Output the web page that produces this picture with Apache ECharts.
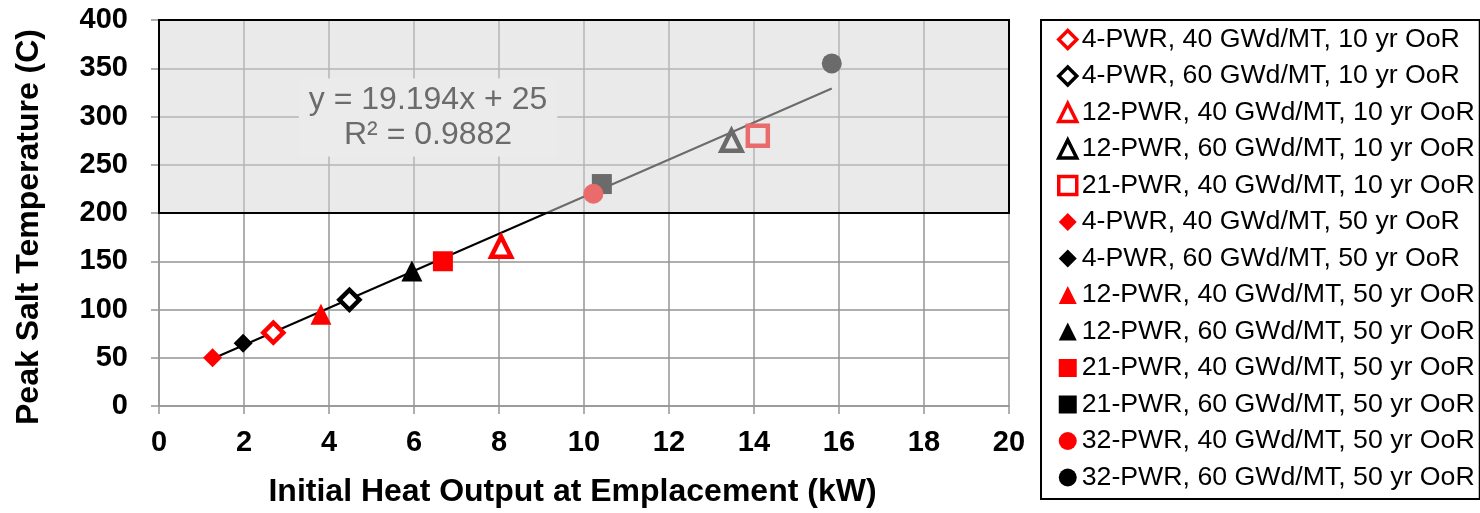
<!DOCTYPE html>
<html>
<head>
<meta charset="utf-8">
<script src="https://cdn.jsdelivr.net/npm/echarts@6/dist/echarts.min.js"></script>
<style>
html,body{margin:0;padding:0;background:#fff;}
#chart{width:1480px;height:513px;}
</style>
</head>
<body>
<div id="chart"></div>
<script>
// ---- data ----
const seriesNames = [
  '4-PWR, 40 GWd/MT, 10 yr OoR',
  '4-PWR, 60 GWd/MT, 10 yr OoR',
  '12-PWR, 40 GWd/MT, 10 yr OoR',
  '12-PWR, 60 GWd/MT, 10 yr OoR',
  '21-PWR, 40 GWd/MT, 10 yr OoR',
  '4-PWR, 40 GWd/MT, 50 yr OoR',
  '4-PWR, 60 GWd/MT, 50 yr OoR',
  '12-PWR, 40 GWd/MT, 50 yr OoR',
  '12-PWR, 60 GWd/MT, 50 yr OoR',
  '21-PWR, 40 GWd/MT, 50 yr OoR',
  '21-PWR, 60 GWd/MT, 50 yr OoR',
  '32-PWR, 40 GWd/MT, 50 yr OoR',
  '32-PWR, 60 GWd/MT, 50 yr OoR'
];
const heatOutput = [2.69, 4.48, 8.05, 13.47, 14.09, 1.26, 1.98, 3.81, 5.95, 6.68, 10.42, 10.22, 15.83];
const peakTemp   = [76, 110, 165, 275, 280, 50, 65, 95, 140, 150, 230, 220, 355];
const symbols    = ['diamond','diamond','triangle','triangle','rect','diamond','diamond','triangle','triangle','rect','rect','circle','circle'];
const colors     = ['#ff0000','#000000','#ff0000','#000000','#ff0000','#ff0000','#000000','#ff0000','#000000','#ff0000','#000000','#ff0000','#000000'];
const hollow     = [true, true, true, true, true, false, false, false, false, false, false, false, false];
const trendPoints = [[1.26, 49], [15.83, 329]];
const shadeBox = [0, 200, 20, 400];          // xMin, yMin, xMax, yMax
const equationText = ['y = 19.194x + 25', 'R\u00b2 = 0.9882'];
const equationAt = [6.33, 299];
const xTicks = {min: 0, max: 20, interval: 2};
const yTicks = {min: 0, max: 400, interval: 50};

const FONT = '"Liberation Sans", Arial, sans-serif';
const filledSize = {diamond: 19, triangle: 21, rect: 20, circle: 20};

const scatterSeries = seriesNames.map((name, i) => ({
  name: name,
  type: 'scatter',
  z: 3,
  symbol: symbols[i],
  symbolSize: hollow[i] ? 20 : filledSize[symbols[i]],
  itemStyle: hollow[i]
    ? {color: '#ffffff', borderColor: colors[i], borderWidth: 4.5, opacity: 1}
    : {color: colors[i], borderWidth: 0, opacity: 1},
  emphasis: {disabled: true},
  data: [[heatOutput[i], peakTemp[i]]]
}));

const option = {
  animation: false,
  backgroundColor: '#ffffff',
  grid: {left: 159, right: 471, top: 20, bottom: 106.3, containLabel: false},
  xAxis: {
    type: 'value', min: xTicks.min, max: xTicks.max, interval: xTicks.interval,
    name: 'Initial Heat Output at Emplacement (kW)',
    nameLocation: 'middle', nameGap: 70,
    nameTextStyle: {fontFamily: FONT, fontSize: 32, fontWeight: 'bold', color: '#000', padding: [0, 23, 0, 0]},
    axisLine: {show: true, lineStyle: {color: '#959595', width: 1.5}},
    axisTick: {show: true, length: 8, lineStyle: {color: '#959595', width: 1.5}},
    axisLabel: {fontFamily: FONT, fontSize: 29, fontWeight: 'bold', color: '#000', margin: 22},
    splitLine: {show: true, lineStyle: {color: '#959595', width: 1.5}}
  },
  yAxis: {
    type: 'value', min: yTicks.min, max: yTicks.max, interval: yTicks.interval,
    name: 'Peak Salt Temperature (C)',
    nameLocation: 'middle', nameGap: 114,
    nameTextStyle: {fontFamily: FONT, fontSize: 32, fontWeight: 'bold', color: '#000', padding: [0, 28, 0, 0]},
    axisLine: {show: true, lineStyle: {color: '#959595', width: 1.5}},
    axisTick: {show: true, length: 8, lineStyle: {color: '#959595', width: 1.5}},
    axisLabel: {fontFamily: FONT, fontSize: 29, fontWeight: 'bold', color: '#000', margin: 31},
    splitLine: {show: true, lineStyle: {color: '#959595', width: 1.5}}
  },
  legend: {
    orient: 'vertical', left: 1041, top: 20,
    padding: [6, 5, 8, 16],
    itemGap: 9.5, itemWidth: 18, itemHeight: 18,
    borderColor: '#000', borderWidth: 2,
    textStyle: {fontFamily: FONT, fontSize: 26.7, color: '#000', lineHeight: 26},
    data: seriesNames.map((n, i) => ({
      name: n,
      itemStyle: hollow[i] ? {borderWidth: 3.5, opacity: 1} : {borderWidth: 0, opacity: 1}
    }))
  },
  series: [
    {
      name: 'trend', type: 'line', z: 2, symbol: 'none', silent: true,
      lineStyle: {color: '#000', width: 2},
      data: trendPoints
    },
    ...scatterSeries,
    {
      name: 'shade', type: 'custom', z: 10, silent: true,
      encode: {x: [0, 2], y: [1, 3]},
      data: [shadeBox],
      renderItem: function (params, api) {
        const p0 = api.coord([api.value(0), api.value(3)]);
        const p1 = api.coord([api.value(2), api.value(1)]);
        return {
          type: 'rect',
          shape: {x: p0[0], y: p0[1], width: p1[0] - p0[0], height: p1[1] - p0[1]},
          style: {fill: 'rgba(214,214,214,0.5)', stroke: '#000', lineWidth: 2}
        };
      }
    },
    {
      name: 'equation', type: 'custom', z: 11, silent: true,
      data: [equationAt],
      renderItem: function (params, api) {
        const p = api.coord([api.value(0), api.value(1)]);
        return {
          type: 'text',
          x: p[0], y: p[1],
          style: {
            text: equationText.join('\n'),
            fill: '#6b6b6b',
            fontFamily: FONT, fontSize: 32,
            align: 'center', verticalAlign: 'middle',
            lineHeight: 35,
            backgroundColor: '#ebebeb',
            padding: [4, 10]
          }
        };
      }
    }
  ]
};

const chart = echarts.init(document.getElementById('chart'), null, {renderer: 'canvas'});
chart.setOption(option);
</script>
</body>
</html>
